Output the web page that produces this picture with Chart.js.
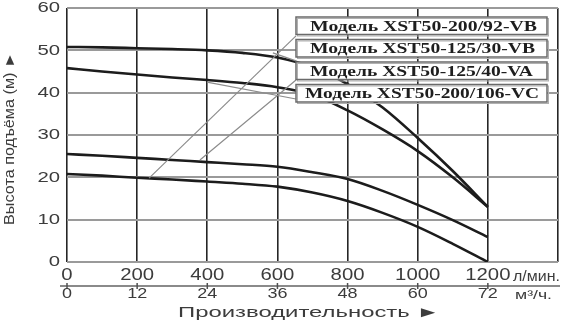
<!DOCTYPE html>
<html>
<head>
<meta charset="utf-8">
<title>Напорные характеристики XST50</title>
<script src="https://cdn.jsdelivr.net/npm/chart.js"></script>
<style>
  html, body { margin: 0; padding: 0; background: #fff; }
  #wrap { width: 578px; height: 324px; position: relative; }
</style>
</head>
<body>
<div id="wrap"><canvas id="pumpChart"></canvas></div>
<script>
// tick labels
const flowLpm = [0, 200, 400, 600, 800, 1000, 1200];
const flowM3h = [0, 12, 24, 36, 48, 60, 72];
const headTicks = [0, 10, 20, 30, 40, 50, 60];

const models = [
  "Модель XST50-200/92-VB",
  "Модель XST50-125/30-VB",
  "Модель XST50-125/40-VA",
  "Модель XST50-200/106-VC"
];

// flow points (л/мин) and head (м) for every curve
const curveFlow = [0, 100, 200, 300, 400, 500, 600, 700, 800, 900, 1000, 1100, 1200];
const head92  = [20.8, 20.4, 19.9, 19.5, 19.0, 18.5, 17.8, 16.4, 14.4, 11.6, 8.3, 4.3, 0];
const head30  = [50.8, 50.7, 50.5, 50.3, 50.0, 49.4, 48.3, 46.0, 42.0, 36.5, 29.3, 21.5, 13.0];
const head40  = [25.5, 25.1, 24.6, 24.1, 23.6, 23.1, 22.5, 21.2, 19.6, 16.8, 13.5, 9.9, 5.9];
const head106 = [45.8, 45.0, 44.3, 43.6, 43.0, 42.3, 41.3, 39.5, 35.8, 31.3, 26.2, 20.0, 13.0];

const heads = [head92, head30, head40, head106];

const TEXT = "#3c3c3c";

// draws text squeezed/stretched so it takes the given width
function fitText(ctx, text, x, y, width, align) {
  const w = ctx.measureText(text).width;
  ctx.save();
  ctx.translate(x, y);
  ctx.scale(width / w, 1);
  ctx.textAlign = "left";
  let dx = 0;
  if (align === "center") dx = -w / 2;
  if (align === "right") dx = -w;
  ctx.fillText(text, dx, 0);
  ctx.restore();
}

function stretchText(ctx, text, x, y, sx, align) {
  ctx.save();
  ctx.translate(x, y);
  ctx.scale(sx, 1);
  ctx.textAlign = align;
  ctx.fillText(text, 0, 0);
  ctx.restore();
}

const decorPlugin = {
  id: "decor",
  afterDatasetsDraw(chart) {
    const { ctx, scales: { x, y } } = chart;
    // leader lines from the curves to the label boxes
    const leaders = [
      [[234, 19.8], [653, 53.4]],
      [[379, 24.1], [613, 40.2], [653, 43.0]],
      [[587, 49.4], [653, 47.5]],
      [[399, 42.5], [653, 38.5]]
    ];
    ctx.save();
    ctx.strokeStyle = "#8c8c8c";
    ctx.lineWidth = 1.2;
    leaders.forEach(pts => {
      ctx.beginPath();
      pts.forEach((p, i) => {
        const px = x.getPixelForValue(p[0]);
        const py = y.getPixelForValue(p[1]);
        if (i === 0) ctx.moveTo(px, py); else ctx.lineTo(px, py);
      });
      ctx.stroke();
    });

    // label boxes
    const left = 296, boxW = 251, boxH = 17.5;
    const tops = [17, 39.5, 62, 84.5];
    const textX = [310, 310, 310, 305];
    const textW = [227, 225, 223, 234];
    ctx.font = 'bold 15px "Liberation Serif"';
    ctx.textBaseline = "middle";
    models.forEach((m, i) => {
      ctx.fillStyle = "#fff";
      ctx.fillRect(left, tops[i], boxW, boxH);
      ctx.strokeStyle = "#b0b0b0";
      ctx.lineWidth = 1;
      ctx.strokeRect(left + 1.5, tops[i] + 1.5, boxW, boxH);
      ctx.strokeStyle = "#6a6a6a";
      ctx.lineWidth = 1.5;
      ctx.strokeRect(left, tops[i], boxW, boxH);
      ctx.fillStyle = "#1e1e1e";
      fitText(ctx, m, textX[i], tops[i] + boxH / 2 + 1, textW[i], "left");
    });
    ctx.restore();
  },
  afterDraw(chart) {
    const { ctx, chartArea: a, scales: { x, y } } = chart;
    ctx.save();
    ctx.fillStyle = TEXT;
    ctx.textBaseline = "middle";

    // head labels
    ctx.font = '14px "Liberation Sans"';
    headTicks.forEach(v => stretchText(ctx, String(v), 60, y.getPixelForValue(v) + 0.5, 1.45, "right"));

    // flow labels, л/мин
    ctx.font = '16px "Liberation Sans"';
    flowLpm.forEach(v => stretchText(ctx, String(v), x.getPixelForValue(v), a.bottom + 14, 1.27, "center"));
    ctx.font = '14px "Liberation Sans"';
    fitText(ctx, "л/мин.", 513, a.bottom + 15, 47, "left");

    // second flow axis, м³/ч
    const lineY = a.bottom + 24;
    ctx.strokeStyle = "#8a8a8a";
    ctx.lineWidth = 2;
    ctx.beginPath();
    ctx.moveTo(a.left - 7, lineY);
    ctx.lineTo(a.right + 2, lineY);
    ctx.stroke();
    ctx.strokeStyle = "#505050";
    ctx.lineWidth = 1.5;
    flowLpm.forEach(v => {
      const px = x.getPixelForValue(v);
      ctx.beginPath();
      ctx.moveTo(px, lineY - 3);
      ctx.lineTo(px, lineY + 3);
      ctx.stroke();
    });
    ctx.font = '15px "Liberation Sans"';
    flowM3h.forEach((v, i) => stretchText(ctx, String(v), x.getPixelForValue(flowLpm[i]), a.bottom + 32, 1.2, "center"));
    ctx.font = '13px "Liberation Sans"';
    fitText(ctx, "м³/ч.", 515, a.bottom + 33, 37, "left");

    // axis titles
    ctx.font = '15px "Liberation Sans"';
    fitText(ctx, "Производительность ►", 309, a.bottom + 51, 262, "center");

    ctx.save();
    ctx.translate(10.5, 138.5);
    ctx.rotate(-Math.PI / 2);
    ctx.font = '14px "Liberation Sans"';
    fitText(ctx, "Высота подъёма (м) ►", 0, 0, 173, "center");
    ctx.restore();
    ctx.restore();
  }
};

const ctx = document.getElementById("pumpChart").getContext("2d");
new Chart(ctx, {
  type: "line",
  data: {
    datasets: models.map((m, i) => ({
      label: m,
      data: curveFlow.map((f, j) => ({ x: f, y: heads[i][j] })),
      borderColor: "#1c1c1c",
      borderWidth: 2.6,
      pointRadius: 0,
      fill: false,
      cubicInterpolationMode: "monotone"
    }))
  },
  options: {
    responsive: true,
    maintainAspectRatio: false,
    animation: false,
    layout: { padding: { left: 67, top: 8, right: 20, bottom: 62 } },
    plugins: { legend: { display: false }, tooltip: { enabled: false } },
    scales: {
      x: {
        type: "linear",
        min: 0,
        max: 1400,
        ticks: { display: false, stepSize: 200 },
        grid: { color: "#262626", lineWidth: 1.6, drawTicks: false },
        border: { display: false }
      },
      y: {
        z: -1,
        min: 0,
        max: 60,
        ticks: { display: false, stepSize: 10 },
        grid: { color: "#9a9a9a", lineWidth: 2, drawTicks: false },
        border: { display: false }
      }
    }
  },
  plugins: [decorPlugin]
});
</script>
</body>
</html>
